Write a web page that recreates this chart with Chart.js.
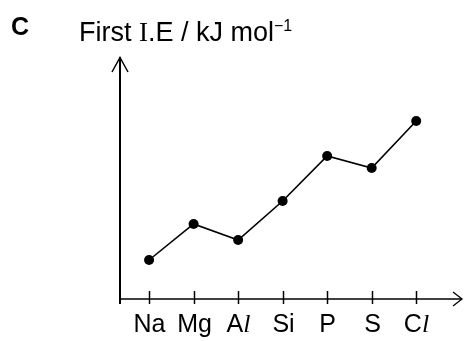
<!DOCTYPE html>
<html>
<head>
<meta charset="utf-8">
<script src="https://cdn.jsdelivr.net/npm/chart.js@4"></script>
<style>
  html, body { margin: 0; padding: 0; background: #fff; }
  #wrap { width: 468px; height: 341px; }
</style>
</head>
<body>
<div id="wrap"><canvas id="c" width="468" height="341"></canvas></div>
<script>
// Elements across period 3 (tick labels)
const elements = ["Na", "Mg", "Al", "Si", "P", "S", "Cl"];
// First ionisation energy, relative units (axis has no numbers)
const firstIE = [39, 75, 59, 98, 143, 131, 178];
const panelLetter = "C";

const SANS = '"Liberation Sans", Arial, sans-serif';
const SERIF = '"Liberation Serif", "Times New Roman", serif';

const axesPlugin = {
  id: 'axesPlugin',
  afterDraw(chart) {
    const ctx = chart.ctx;
    const xs = chart.scales.x, ys = chart.scales.y;
    const x0 = xs.left, y0 = ys.getPixelForValue(0);
    const yTop = ys.top, xRight = xs.right - 1;
    ctx.save();
    ctx.strokeStyle = '#000';
    ctx.fillStyle = '#000';
    // y axis
    ctx.lineWidth = 2;
    ctx.beginPath();
    ctx.moveTo(x0, y0 + 5); ctx.lineTo(x0, yTop);
    ctx.stroke();
    // y arrow
    ctx.lineWidth = 1.5;
    ctx.beginPath();
    ctx.moveTo(x0 - 8, yTop + 15); ctx.lineTo(x0, yTop + 0.5); ctx.lineTo(x0 + 8, yTop + 15);
    ctx.stroke();
    // x axis
    ctx.lineWidth = 1.3;
    ctx.beginPath();
    ctx.moveTo(x0, y0); ctx.lineTo(xRight, y0);
    ctx.stroke();
    // x arrow
    ctx.beginPath();
    ctx.moveTo(xRight - 9, y0 - 7); ctx.lineTo(xRight, y0); ctx.lineTo(xRight - 9, y0 + 7);
    ctx.stroke();
    // ticks + labels
    ctx.lineWidth = 1.5;
    ctx.textBaseline = 'alphabetic';
    elements.forEach((el, i) => {
      const px = Math.round(xs.getPixelForValue(i)) + 0.5;
      ctx.beginPath();
      ctx.moveTo(px, y0 - 8); ctx.lineTo(px, y0 + 5);
      ctx.stroke();
      // label with italic serif "l"
      const parts = [];
      if (el.endsWith('l')) {
        parts.push({t: el.slice(0, -1), f: '25px ' + SANS});
        parts.push({t: 'l', f: 'italic 26px ' + SERIF});
      } else {
        parts.push({t: el, f: '25px ' + SANS});
      }
      let w = 0;
      parts.forEach(p => { ctx.font = p.f; p.w = ctx.measureText(p.t).width; w += p.w; });
      let cx = px - w / 2;
      ctx.textAlign = 'left';
      parts.forEach(p => { ctx.font = p.f; ctx.fillText(p.t, cx, 332); cx += p.w; });
    });
    // panel letter
    ctx.font = 'bold 25px ' + SANS;
    ctx.fillText(panelLetter, 11, 35);
    // y title: "First " + serif "I" + ".E / kJ mol" + superscript "−1"
    const tparts = [
      {t: 'First ', f: '27px ' + SANS, y: 41},
      {t: 'I', f: '27px ' + SERIF, y: 41},
      {t: '.E / kJ mol', f: '27px ' + SANS, y: 41},
      {t: '\u22121', f: '16px ' + SANS, y: 31}
    ];
    let tx = 79;
    tparts.forEach(p => { ctx.font = p.f; ctx.fillText(p.t, tx, p.y); tx += ctx.measureText(p.t).width; });
    ctx.restore();
  }
};

new Chart(document.getElementById('c'), {
  type: 'line',
  data: {
    datasets: [{
      data: firstIE.map((v, i) => ({x: i, y: v})),
      borderColor: '#000',
      backgroundColor: '#000',
      borderWidth: 1.6,
      pointRadius: 5,
      pointBackgroundColor: '#000',
      pointBorderWidth: 0,
      tension: 0,
      clip: false
    }]
  },
  options: {
    responsive: false,
    animation: false,
    events: [],
    layout: { padding: { left: 120, right: 0, top: 57, bottom: 42 } },
    plugins: { legend: { display: false }, tooltip: { enabled: false } },
    scales: {
      x: { type: 'linear', display: false, min: -0.653, max: 7.051 },
      y: { type: 'linear', display: false, min: 0, max: 242 }
    }
  },
  plugins: [axesPlugin]
});
</script>
</body>
</html>
